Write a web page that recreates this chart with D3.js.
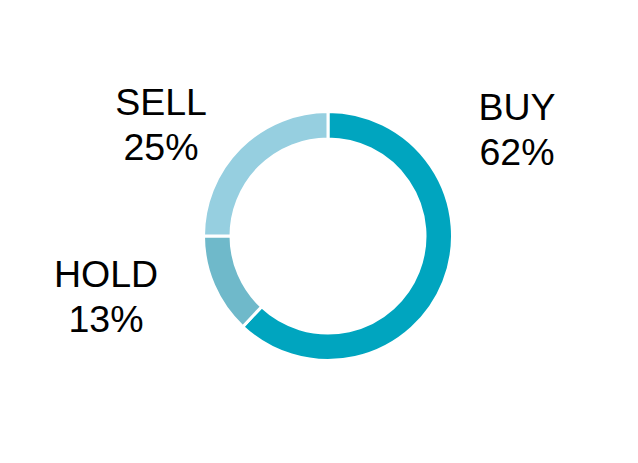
<!DOCTYPE html>
<html><head><meta charset="utf-8">
<script src="https://cdn.jsdelivr.net/npm/d3@7"></script>
<style>html,body{margin:0;padding:0;background:#fff;}</style>
</head><body>
<svg id="c" width="638" height="463"></svg>
<script>
const categories = ["BUY", "HOLD", "SELL"];
const values = [62, 13, 25];
const colors = ["#00A5BF", "#6FB9CA", "#96CFE0"];
const labels = ["62%", "13%", "25%"];

const svg = d3.select("#c");
const cx = 328, cy = 236, R = 124.5, r = 97;
const g = svg.append("g").attr("transform", `translate(${cx},${cy})`);
const pie = d3.pie().sort(null).value(d => d)(values);
const arc = d3.arc().innerRadius(r).outerRadius(R);
g.selectAll("path").data(pie).enter().append("path")
  .attr("d", arc)
  .attr("fill", (d, i) => colors[i])
  .attr("stroke", "#fff").attr("stroke-width", 3);

const labelPos = [[517, 120], [106, 287], [161, 115]];
const lg = svg.append("g").attr("font-family", "Liberation Sans, Arial, sans-serif")
  .attr("font-size", 37.5).attr("fill", "#000").attr("text-anchor", "middle");
categories.forEach((c, i) => {
  const t = lg.append("text").attr("x", labelPos[i][0]).attr("y", labelPos[i][1]);
  t.append("tspan").attr("x", labelPos[i][0]).text(c);
  t.append("tspan").attr("x", labelPos[i][0]).attr("dy", 45).text(labels[i]);
});
</script>
</body></html>
